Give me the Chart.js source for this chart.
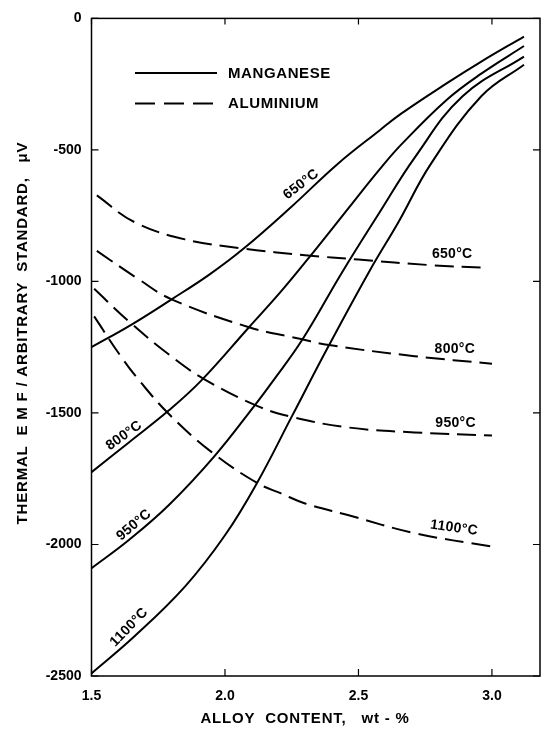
<!DOCTYPE html>
<html>
<head>
<meta charset="utf-8">
<script src="https://cdn.jsdelivr.net/npm/chart.js@4.4.1/dist/chart.umd.min.js"></script>
<style>
  html, body { margin: 0; padding: 0; background: #fff; }
</style>
</head>
<body>
<canvas id="emfChart" width="541" height="730"></canvas>
<script>
// values: [alloy wt-%, emf uV]
var mn650 = [[1.50,-1250],[1.65,-1164],[1.80,-1068],[1.94,-975],[2.07,-875],[2.25,-715],[2.42,-555],[2.58,-425],[2.66,-362],[2.83,-247],[2.96,-164],[3.12,-69]];
var mn800 = [[1.50,-1725],[1.64,-1612],[1.79,-1490],[1.91,-1378],[2.09,-1174],[2.21,-1038],[2.33,-890],[2.48,-699],[2.58,-573],[2.66,-480],[2.83,-310],[2.96,-210],[3.12,-105]];
var mn950 = [[1.50,-2090],[1.64,-1983],[1.79,-1850],[1.96,-1665],[2.11,-1473],[2.18,-1378],[2.29,-1221],[2.44,-963],[2.58,-736],[2.71,-530],[2.89,-296],[3.12,-145]];
var mn1100 = [[1.50,-2490],[1.66,-2350],[1.85,-2160],[2.00,-1965],[2.12,-1766],[2.25,-1514],[2.39,-1242],[2.54,-963],[2.65,-774],[2.77,-555],[2.96,-296],[3.12,-176]];

var al650 = [[1.52,-673],[1.66,-774],[1.85,-840],[2.07,-875],[2.30,-900],[2.50,-917],[2.77,-938],[2.98,-948]];
var al800 = [[1.52,-884],[1.68,-994],[1.80,-1068],[2.09,-1174],[2.28,-1218],[2.39,-1242],[2.71,-1284],[3.00,-1313]];
var al950 = [[1.51,-1028],[1.64,-1152],[1.79,-1278],[1.92,-1370],[2.12,-1473],[2.25,-1515],[2.46,-1555],[2.71,-1574],[3.00,-1586]];
var al1100 = [[1.51,-1133],[1.61,-1285],[1.68,-1378],[1.79,-1504],[1.95,-1649],[2.12,-1766],[2.21,-1806],[2.30,-1844],[2.46,-1888],[2.71,-1957],[3.00,-2008]];

var xTickValues = [1.5, 2.0, 2.5, 3.0];
var yTickValues = [0, -500, -1000, -1500, -2000, -2500];

// curve labels: text, anchor in data units, rotation in degrees
var curveLabels = [
  ['650°C', 2.285, -631, -37],
  ['800°C', 1.622, -1586, -35],
  ['950°C', 1.659, -1926, -40],
  ['1100°C', 1.641, -2315, -46],
  ['650°C', 2.851, -895, 0],
  ['800°C', 2.861, -1258, 0],
  ['950°C', 2.864, -1539, 0],
  ['1100°C', 2.858, -1937, 8]
];

var FONT = 'bold 14px "Liberation Sans", Arial, sans-serif';
var DASH = [19, 8];

function toPoints(arr) {
  return arr.map(function(p) { return {x: p[0], y: p[1]}; });
}

function series(label, arr, dashed) {
  return {
    label: label,
    data: toPoints(arr),
    borderColor: '#000',
    borderWidth: 2,
    borderDash: dashed ? DASH : [],
    pointRadius: 0,
    fill: false,
    tension: 0.4
  };
}

var framePlugin = {
  id: 'frame',
  afterDraw: function(chart) {
    var ctx = chart.ctx;
    var a = chart.chartArea;
    var xs = chart.scales.x, ys = chart.scales.y;
    ctx.save();
    ctx.strokeStyle = '#000';
    ctx.lineWidth = 1.5;
    ctx.setLineDash([]);
    ctx.strokeRect(a.left, a.top, a.right - a.left, a.bottom - a.top);

    // inward ticks on all four sides
    ctx.lineWidth = 1.2;
    ctx.beginPath();
    xTickValues.forEach(function(v) {
      var px = xs.getPixelForValue(v);
      ctx.moveTo(px, a.bottom); ctx.lineTo(px, a.bottom - 7);
      ctx.moveTo(px, a.top); ctx.lineTo(px, a.top + 6);
    });
    yTickValues.forEach(function(v) {
      var py = ys.getPixelForValue(v);
      ctx.moveTo(a.left, py); ctx.lineTo(a.left + 7, py);
      ctx.moveTo(a.right, py); ctx.lineTo(a.right - 7, py);
    });
    ctx.stroke();

    // legend
    ctx.lineWidth = 2;
    ctx.beginPath();
    ctx.moveTo(135, 73); ctx.lineTo(217, 73);
    ctx.stroke();
    ctx.setLineDash([20, 9]);
    ctx.beginPath();
    ctx.moveTo(135, 103.5); ctx.lineTo(217, 103.5);
    ctx.stroke();
    ctx.setLineDash([]);
    ctx.fillStyle = '#000';
    ctx.font = 'bold 15px "Liberation Sans", Arial, sans-serif';
    ctx.letterSpacing = '0.6px';
    ctx.textAlign = 'left';
    ctx.textBaseline = 'middle';
    ctx.fillText('MANGANESE', 228, 73.5);
    ctx.fillText('ALUMINIUM', 228, 104);

    // curve labels
    ctx.font = FONT;
    ctx.letterSpacing = '0.3px';
    ctx.textAlign = 'center';
    curveLabels.forEach(function(l) {
      ctx.save();
      ctx.translate(xs.getPixelForValue(l[1]), ys.getPixelForValue(l[2]));
      ctx.rotate(l[3] * Math.PI / 180);
      ctx.fillText(l[0], 0, 0);
      ctx.restore();
    });

    // axis titles
    ctx.font = 'bold 15px "Liberation Sans", Arial, sans-serif';
    ctx.letterSpacing = '0.8px';
    ctx.fillText('ALLOY  CONTENT,   wt - %', 305, 719);
    ctx.save();
    ctx.translate(23, 333);
    ctx.rotate(-Math.PI / 2);
    ctx.fillText('THERMAL  E M F / ARBITRARY  STANDARD,   \u03bcV', 0, 0);
    ctx.restore();
    ctx.restore();
  }
};

var ctx = document.getElementById('emfChart').getContext('2d');
var emfChart = new Chart(ctx, {
  type: 'line',
  data: {
    datasets: [
      series('Mn 650', mn650, false),
      series('Mn 800', mn800, false),
      series('Mn 950', mn950, false),
      series('Mn 1100', mn1100, false),
      series('Al 650', al650, true),
      series('Al 800', al800, true),
      series('Al 950', al950, true),
      series('Al 1100', al1100, true)
    ]
  },
  options: {
    responsive: false,
    animation: false,
    devicePixelRatio: 1,
    layout: { padding: { top: 15, right: 1, left: 0, bottom: 0 } },
    plugins: { legend: { display: false }, tooltip: { enabled: false } },
    scales: {
      x: {
        type: 'linear',
        min: 1.5,
        max: 3.18,
        afterFit: function(scale) { scale.height = 54; },
        afterBuildTicks: function(scale) {
          scale.ticks = xTickValues.map(function(v) { return {value: v}; });
        },
        grid: { display: false, drawTicks: false },
        border: { display: false },
        ticks: {
          color: '#000',
          padding: 12,
          maxRotation: 0,
          font: { family: '"Liberation Sans", Arial, sans-serif', size: 14, weight: 'bold' },
          callback: function(v) { return v.toFixed(1); }
        }
      },
      y: {
        min: -2500,
        max: 0,
        afterFit: function(scale) { scale.width = 91.5; },
        afterBuildTicks: function(scale) {
          scale.ticks = yTickValues.map(function(v) { return {value: v}; });
        },
        grid: { display: false, drawTicks: false },
        border: { display: false },
        ticks: {
          color: '#000',
          padding: 10,
          font: { family: '"Liberation Sans", Arial, sans-serif', size: 14, weight: 'bold' },
          callback: function(v) { return v === 0 ? '0' : '-' + Math.abs(v); }
        }
      }
    }
  },
  plugins: [framePlugin]
});
</script>
</body>
</html>
